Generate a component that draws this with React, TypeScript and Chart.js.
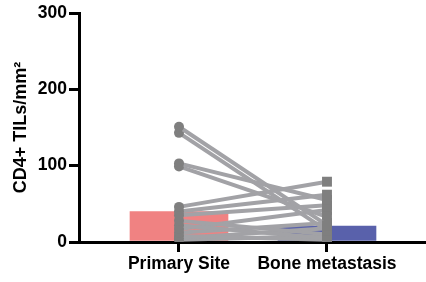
import React, { useEffect, useRef } from "react";
import { Chart, registerables } from "chart.js";

Chart.register(...registerables);

const categories = ["Primary Site", "Bone metastasis"];
const barValues = [40, 21];
const primaryValues = [151, 143, 103, 99, 46, 40, 35, 28, 22, 17, 12, 8, 5, 3];
const boneValues = [22, 15, 55, 33, 79, 62, 48, 10, 5, 42, 25, 3, 18, 8];
const yTicks = [0, 100, 200, 300];

const FONT = "'Liberation Sans', Arial, Helvetica, sans-serif";

export default function App() {
  const ref = useRef<HTMLCanvasElement | null>(null);

  useEffect(() => {
    if (!ref.current) return;
    const lineSets = primaryValues.map((p, i) => ({
      type: "line" as const,
      data: [
        { x: 0, y: p },
        { x: 1, y: boneValues[i] },
      ],
      borderColor: "#a2a2a6",
      borderWidth: 4,
      pointStyle: ["circle", "rect"],
      pointRadius: [5, 7],
      pointBackgroundColor: "#7f7f7f",
      pointBorderWidth: 0,
      fill: false,
      order: 1,
    }));
    const chart = new Chart(ref.current, {
      type: "bar",
      data: {
        datasets: [
          {
            type: "bar" as const,
            data: barValues.map((v, i) => ({ x: i, y: v })),
            backgroundColor: ["#f08282", "#5961ab"],
            barThickness: 98,
            order: 2,
          } as any,
          ...lineSets,
        ],
      },
      options: {
        animation: false,
        responsive: false,
        layout: { autoPadding: false, padding: { top: 13, right: 0, left: 0, bottom: 0 } },
        plugins: { legend: { display: false }, tooltip: { enabled: false } },
        scales: {
          x: {
            type: "linear",
            min: -0.6757,
            max: 1.669,
            offset: false,
            afterBuildTicks: (scale: any) => {
              scale.ticks = categories.map((_, i) => ({ value: i }));
            },
            afterFit: (scale: any) => {
              scale.height = 40;
              scale.paddingLeft = 0;
              scale.paddingRight = 0;
            },
            ticks: {
              autoSkip: false,
              maxRotation: 0,
              padding: 2,
              color: "#000",
              font: { family: FONT, size: 17.5, weight: "bold" },
              callback: (v: any) => categories[Math.round(Number(v))] ?? "",
            },
            grid: {
              offset: false,
              drawOnChartArea: false,
              drawTicks: true,
              tickLength: 10,
              color: "#000",
              lineWidth: 3,
            },
            border: { display: true, color: "#000", width: 3 },
          },
          y: {
            min: 0,
            max: 300,
            afterBuildTicks: (scale: any) => {
              scale.ticks = yTicks.map((v) => ({ value: v }));
            },
            afterFit: (scale: any) => {
              scale.width = 79;
              scale.paddingTop = 0;
              scale.paddingBottom = 0;
            },
            ticks: {
              padding: 2,
              color: "#000",
              font: { family: FONT, size: 17.5, weight: "bold" },
            },
            grid: {
              drawOnChartArea: false,
              drawTicks: true,
              tickLength: 10,
              color: "#000",
              lineWidth: 3,
            },
            border: { display: true, color: "#000", width: 3 },
            title: {
              display: true,
              text: "CD4+ TILs/mm²",
              color: "#000",
              padding: { top: 10, bottom: 0 },
              font: { family: FONT, size: 18, weight: "bold" },
            },
          },
        },
      } as any,
    });
    return () => chart.destroy();
  }, []);

  return (
    <div style={{ position: "absolute", left: 0, top: 0, width: 426, height: 282 }}>
      <canvas ref={ref} width={426} height={282} style={{ width: 426, height: 282 }} />
    </div>
  );
}
